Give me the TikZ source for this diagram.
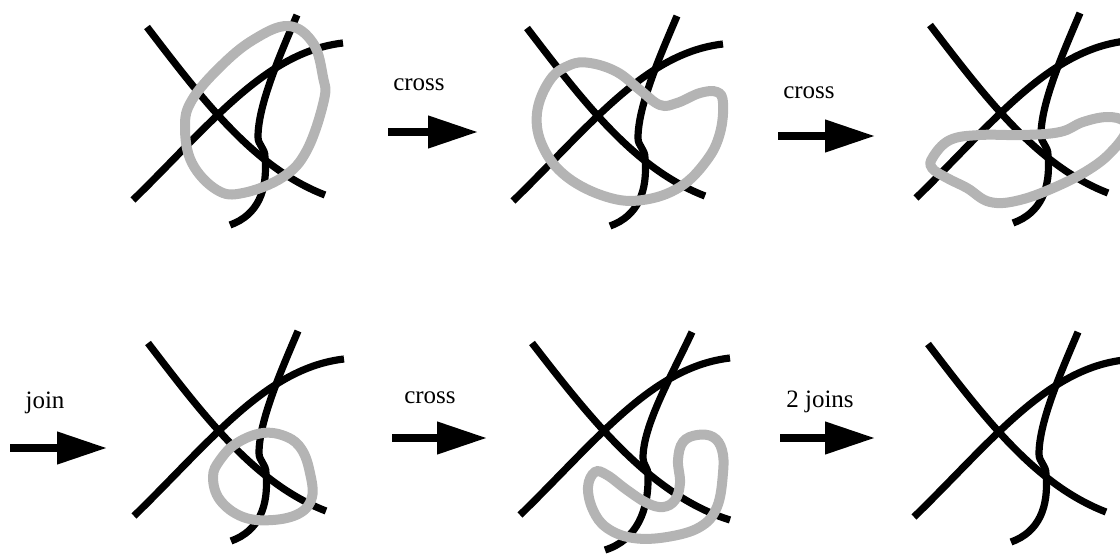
\documentclass[tikz,border=0pt]{standalone}
\usepackage{fontspec}
\setmainfont{Liberation Serif}
\usetikzlibrary{arrows.meta}
\definecolor{loopgray}{RGB}{180,180,180}
\newcommand{\knotlines}{%
  \draw[strand] (147,27) .. controls (205,103) and (255,168) .. (325,195);
  \draw[strand] (133,200) .. controls (210,125) and (265,52) .. (343,43);
  \draw[strand] (297,15) .. controls (280,55) and (258,105) .. (258,137)
     .. controls (258,145) and (265,148) .. (265,157)
     .. controls (268,190) and (258,215) .. (230,225);
}
\begin{document}
\begin{tikzpicture}[x=1pt,y=-1pt,
  strand/.style={line width=7.2pt, draw=black},
  loopline/.style={line width=10pt, draw=loopgray, smooth cycle, tension=0.65},
  move/.style={line width=7.5pt, -{Triangle[length=50pt,width=31pt]}},
  lbl/.style={font=\fontsize{25}{30}\selectfont, anchor=base, inner sep=0pt}]
\useasboundingbox (0,0) rectangle (1120,554);
\clip (0,0) rectangle (1120,554);

% panel 1
\knotlines
\draw[loopline] plot coordinates {(288,26) (313,43) (323,77) (324,100) (307,150) (283,177) (243,193) (217,190) (192,163) (185,127) (192,100) (220,67) (253,40)};

% panel 2
\begin{scope}[shift={(380,1)}]
\knotlines
\end{scope}
\draw[loopline] plot coordinates {(590,63) (617,72) (640,90) (660,105) (677,103) (700,93) (717,92) (723,103) (720,133) (707,160) (680,187) (643,200) (607,197) (567,177) (543,147) (537,113) (550,80) (570,65)};

% panel 3
\begin{scope}[shift={(783,-2)}]
\knotlines
\end{scope}
\draw[loopline] plot coordinates {(933,157) (950,140) (980,135) (1023,135) (1060,132) (1083,122) (1107,117) (1124,121) (1126,132) (1113,150) (1093,167) (1060,185) (1020,200) (990,202) (967,188) (947,178) (932,168)};

% panel 4
\begin{scope}[shift={(1,316)}]
\knotlines
\end{scope}
\draw[loopline] plot coordinates {(263,433) (287,437) (302,450) (310,473) (312,497) (300,513) (273,520) (243,517) (220,500) (213,477) (220,460) (237,443)};

% panel 5
\draw[strand] (532,343) .. controls (590,418) and (650,495) .. (730,520);
\draw[strand] (520,515) .. controls (597,440) and (652,367) .. (730,358);
\draw[strand] (692,332) .. controls (672,375) and (643,425) .. (643,458)
   .. controls (643,465) and (648,467) .. (648,475)
   .. controls (649,510) and (637,540) .. (605,550);
\draw[loopline] plot coordinates {(595,472) (607,475) (627,490) (647,503) (663,507) (675,500) (680,483) (678,460) (683,442) (697,435) (713,437) (722,450) (723,473) (717,507) (700,527) (667,537) (633,538) (607,528) (593,510) (588,487)};

% panel 6
\begin{scope}[shift={(781,317)}]
\knotlines
\end{scope}

% arrows and labels
\coordinate (a1s) at (388,132); \coordinate (a1e) at (478,132);
\coordinate (a2s) at (778,136); \coordinate (a2e) at (875,136);
\coordinate (a3s) at (10,448);  \coordinate (a3e) at (107,448);
\coordinate (a4s) at (392,438); \coordinate (a4e) at (487,438);
\coordinate (a5s) at (780,438); \coordinate (a5e) at (875,438);
\draw[move] (a1s) -- (a1e);
\draw[move] (a2s) -- (a2e);
\draw[move] (a3s) -- (a3e);
\draw[move] (a4s) -- (a4e);
\draw[move] (a5s) -- (a5e);
\node[lbl] (t1) at (419,90) {cross};
\node[lbl] (t2) at (809,98) {cross};
\node[lbl] (t3) at (45,408) {join};
\node[lbl] (t4) at (430,403) {cross};
\node[lbl] (t5) at (820,407) {2 joins};
\end{tikzpicture}
\end{document}
